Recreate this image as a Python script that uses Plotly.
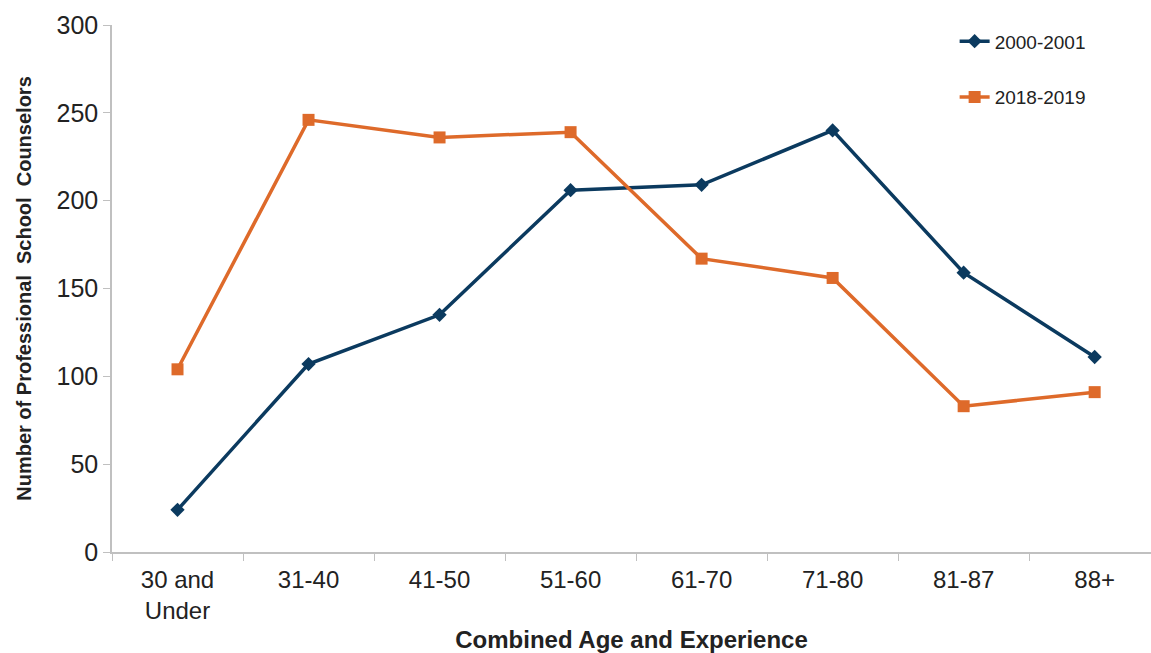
import plotly.graph_objects as go

categories = ["30 and<br>Under", "31-40", "41-50", "51-60", "61-70", "71-80", "81-87", "88+"]
series_2000 = [24, 107, 135, 206, 209, 240, 159, 111]
series_2018 = [104, 246, 236, 239, 167, 156, 83, 91]
y_ticks = [0, 50, 100, 150, 200, 250, 300]

navy = "#0B3A5F"
orange = "#DE6A2A"

fig = go.Figure()
fig.add_trace(go.Scatter(
    x=categories, y=series_2000, name="2000-2001", mode="lines+markers",
    line=dict(color=navy, width=3.5),
    marker=dict(symbol="diamond", size=11, color=navy),
    legendgroup="a",
))
fig.add_trace(go.Scatter(
    x=categories, y=series_2018, name="2018-2019", mode="lines+markers",
    line=dict(color=orange, width=3.5),
    marker=dict(symbol="square", size=12, color=orange),
    legendgroup="b",
))

fig.update_layout(
    width=1151, height=653,
    margin=dict(l=112, r=0, t=25, b=101),
    paper_bgcolor="white", plot_bgcolor="white",
    font=dict(family="Liberation Sans, Arial, sans-serif", color="#222222", size=23),
    showlegend=True,
    legend=dict(
        x=0.811, y=1.005, xanchor="left", yanchor="top",
        font=dict(size=19, color="#222222"),
        traceorder="grouped", tracegroupgap=28,
        bgcolor="rgba(0,0,0,0)",
    ),
    xaxis=dict(
        range=[-0.5, 7.43],
        showline=True, linecolor="#C0C0C0", linewidth=1.5,
        ticks="outside", tickson="boundaries", ticklen=7, tickcolor="#C0C0C0",
        ticklabelstandoff=5,
        showgrid=False, zeroline=False,
        tickfont=dict(size=24, color="#222222"),
        title=dict(text="<b>Combined Age and Experience</b>", font=dict(size=24, color="#222222"), standoff=12),
    ),
    yaxis=dict(
        range=[0, 300], tickvals=y_ticks,
        showline=True, linecolor="#C0C0C0", linewidth=1.5,
        ticks="outside", ticklen=7, tickcolor="#C0C0C0",
        showgrid=False, zeroline=False,
        tickfont=dict(size=25, color="#222222"),
        title=dict(text="<b>Number of Professional  School  Counselors</b>", font=dict(size=20, color="#222222"), standoff=20),
    ),
)

fig.write_html("out.html")
